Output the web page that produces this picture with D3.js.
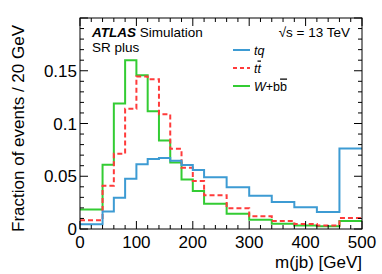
<!DOCTYPE html>
<html><head><meta charset="utf-8">
<script src="https://cdn.jsdelivr.net/npm/d3@7"></script>
<style>
html,body{margin:0;padding:0;background:#fff;}
text{font-family:"Liberation Sans",Arial,Helvetica,sans-serif;}
</style></head>
<body><svg id="c" width="382" height="274"></svg>
<script>
const binEdges = [0,40,60,80,100,120,140,160,180,200,220,260,300,340,380,420,460,500];
const tq  = [0.0044,0.0167,0.0297,0.0477,0.0613,0.0664,0.0673,0.0648,0.0607,0.056,0.049,0.0395,0.0316,0.0256,0.0205,0.0161,0.0762];
const ttbar = [0.0082,0.041,0.0714,0.114,0.1445,0.142,0.1087,0.076,0.058,0.0455,0.032,0.0196,0.012,0.0076,0.0047,0.0034,0.0104];
const wbb = [0.0186,0.061,0.119,0.160,0.1457,0.1116,0.084,0.063,0.047,0.036,0.024,0.0145,0.0088,0.005,0.0034,0.0025,0.0076];
const xTicks = [0,100,200,300,400,500];
const yTicks = [0,0.05,0.1,0.15];
const yTickLabels = ["0","0.05","0.1","0.15"];

const W=382,H=274, m={l:80,r:20,t:18,b:45};
const svg=d3.select("#c");
const x=d3.scaleLinear().domain([0,500]).range([m.l,W-m.r]);
const y=d3.scaleLinear().domain([0,0.2]).range([H-m.b,m.t]);

function stepData(vals){
  const pts=[];
  vals.forEach((v,i)=>{pts.push([binEdges[i],v]);pts.push([binEdges[i+1],v]);});
  return pts;
}
const line=d3.line().x(d=>x(d[0])).y(d=>y(d[1]));
const series=[
  {vals:tq,color:"#3d9bd3",dash:null},
  {vals:ttbar,color:"#ff3b3b",dash:"5,3"},
  {vals:wbb,color:"#33cc33",dash:null}
];
[series[2],series[1],series[0]].forEach(s=>{
  svg.append("path").attr("d",line(stepData(s.vals))).attr("fill","none")
    .attr("stroke",s.color).attr("stroke-width",2).attr("stroke-dasharray",s.dash);
});

// frame
svg.append("rect").attr("x",m.l).attr("y",m.t).attr("width",W-m.l-m.r).attr("height",H-m.t-m.b)
  .attr("fill","none").attr("stroke","#000").attr("stroke-width",1);

// ticks
const xMinor=d3.range(0,501,20), yMinor=d3.range(0,0.2001,0.01);
const tk=svg.append("g").attr("stroke","#000").attr("stroke-width",1);
xMinor.forEach(v=>{
  const major=xTicks.includes(v), L=major?8:4;
  tk.append("line").attr("x1",x(v)).attr("x2",x(v)).attr("y1",y(0)).attr("y2",y(0)-L);
  tk.append("line").attr("x1",x(v)).attr("x2",x(v)).attr("y1",y(0.2)).attr("y2",y(0.2)+L);
});
yMinor.forEach((v,i)=>{
  const major=i%5===0, L=major?8:4;
  tk.append("line").attr("y1",y(v)).attr("y2",y(v)).attr("x1",x(0)).attr("x2",x(0)+L);
  tk.append("line").attr("y1",y(v)).attr("y2",y(v)).attr("x1",x(500)).attr("x2",x(500)-L);
});

// tick labels
const fs=17;
xTicks.forEach(v=>{
  svg.append("text").attr("x",x(v)).attr("y",y(0)+19).attr("text-anchor","middle")
    .attr("font-size",fs).text(v);
});
yTicks.forEach((v,i)=>{
  svg.append("text").attr("x",x(0)-3).attr("y",y(v)+6).attr("text-anchor","end")
    .attr("font-size",fs).text(yTickLabels[i]);
});

// axis titles
svg.append("text").attr("x",W-m.r).attr("y",268).attr("text-anchor","end").attr("font-size",17).text("m(jb) [GeV]");
svg.append("text").attr("transform","translate(24,"+(m.t+7)+") rotate(-90)").attr("text-anchor","end")
  .attr("font-size",17).text("Fraction of events / 20 GeV");

// ATLAS labels
const t1=svg.append("text").attr("x",92).attr("y",37).attr("font-size",13.5);
t1.append("tspan").attr("font-weight","bold").attr("font-style","italic").text("ATLAS");
t1.append("tspan").text(" Simulation");
svg.append("text").attr("x",92).attr("y",52).attr("font-size",13.5).text("SR plus");
svg.append("text").attr("x",350).attr("y",37).attr("text-anchor","end").attr("font-size",13.5).text("√s = 13 TeV");

// legend
const leg=[{c:"#3d9bd3",d:null},{c:"#ff3b3b",d:"4,3"},{c:"#33cc33",d:null}];
const ly=[50,68,86];
leg.forEach((l,i)=>{
  svg.append("line").attr("x1",233).attr("x2",250).attr("y1",ly[i]).attr("y2",ly[i])
    .attr("stroke",l.c).attr("stroke-width",2).attr("stroke-dasharray",l.d);
});
const lf=12.5;
svg.append("text").attr("x",254).attr("y",ly[0]+4.5).attr("font-size",lf).attr("font-style","italic").text("tq");
const b=svg.append("text").attr("x",254).attr("y",ly[1]+4.5).attr("font-size",lf).attr("font-style","italic");
b.append("tspan").text("t");
b.append("tspan").attr("text-decoration","overline").text("t");
const c=svg.append("text").attr("x",254).attr("y",ly[2]+4.5).attr("font-size",lf);
c.append("tspan").attr("font-style","italic").text("W");
c.append("tspan").text("+b");
c.append("tspan").attr("text-decoration","overline").text("b");
</script></body></html>
